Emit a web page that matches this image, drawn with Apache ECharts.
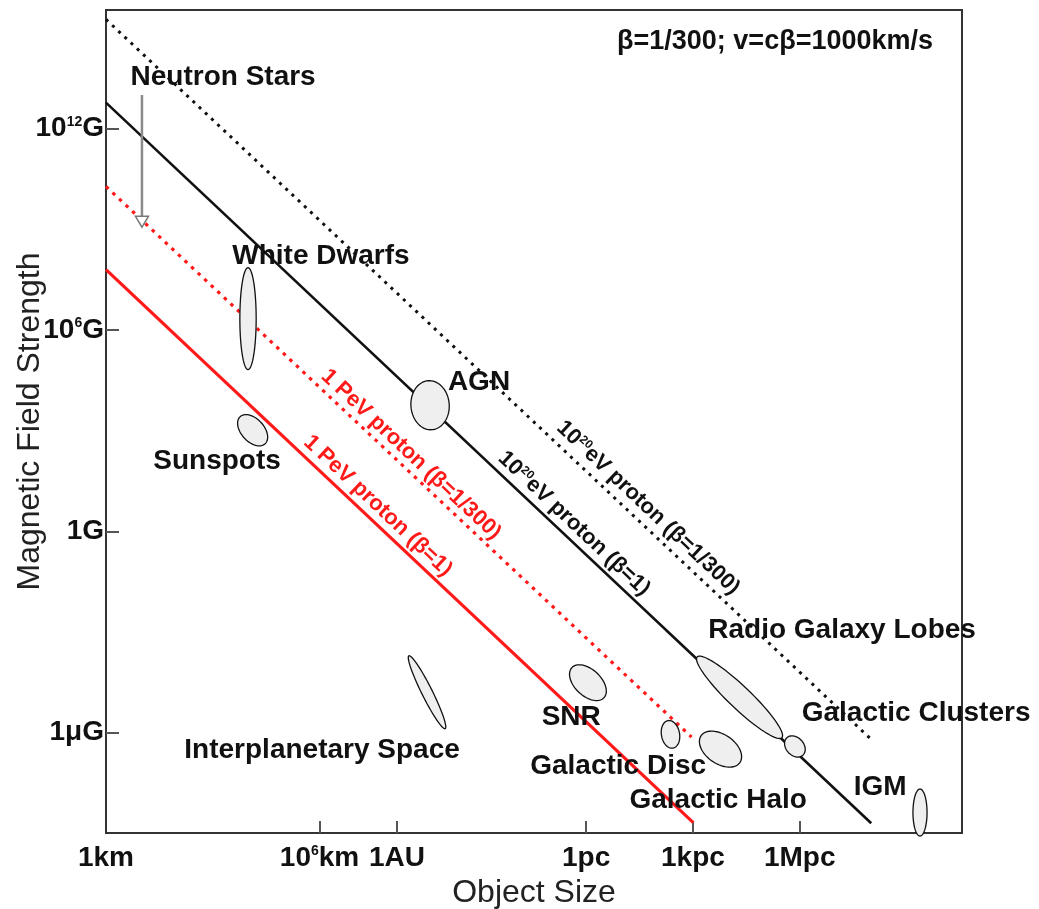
<!DOCTYPE html>
<html>
<head>
<meta charset="utf-8">
<script src="https://cdn.jsdelivr.net/npm/echarts@6/dist/echarts.min.js"></script>
<style>
  html, body { margin: 0; padding: 0; background: #fff; }
  #chart { width: 1039px; height: 909px; }
</style>
</head>
<body>
<div id="chart"></div>
<script>
// Object size axis: log10(size / km)
const xTickValues = [0, 6, 8.175, 13.49, 16.49, 19.49];
const xTickLabels = ['1km', '10{sup|6}km', '1AU', '1pc', '1kpc', '1Mpc'];
// Field strength axis: log10(B / gauss)
const yTickValues = [12, 6, 0, -6];
const yTickLabels = ['10{sup|12}G', '10{sup|6}G', '1G', '1\u03bcG'];

// Hillas limits, end points [log size, log B]
const lineEeV20Beta1 = [[0, 12.78], [21.5, -8.7]];
const lineEeV20Beta300 = [[0, 15.26], [21.5, -6.2]];
const linePeVBeta1 = [[0, 7.8], [16.5, -8.68]];
const linePeVBeta300 = [[0, 10.28], [16.45, -6.13]];

// Source regions: major-axis end points [log size, log B] and minor/major ratio
const sourceNames = ['White Dwarfs', 'Sunspots', 'AGN', 'Interplanetary Space', 'SNR',
  'Galactic Disc', 'Galactic Halo', 'Radio Galaxy Lobes', 'Galactic Clusters', 'IGM'];
const sourceFrom = [[3.99, 7.86], [3.77, 3.42], [9.05, 4.49], [8.51, -3.71], [13.09, -4.06],
  [15.79, -5.64], [16.72, -6.09], [16.61, -3.74], [19.13, -6.15], [22.87, -7.68]];
const sourceTo = [[3.99, 4.82], [4.47, 2.61], [9.16, 3.03], [9.53, -5.88], [13.99, -4.96],
  [15.93, -6.46], [17.81, -6.89], [18.99, -6.15], [19.58, -6.67], [22.87, -9.08]];
const sourceAspect = [0.16, 0.62, 0.78, 0.13, 0.6, 0.65, 0.62, 0.19, 0.75, 0.3];

// Neutron star range (arrow from top to bottom)
const neutronArrow = [[1.01, 13.01], [1.01, 9.36]];
const neutronHead = [[1.01, 9.23]];

// Text annotations anchored in data space
const labelNames = ['Neutron Stars', 'White Dwarfs', 'AGN', 'Sunspots', 'Interplanetary Space',
  'SNR', 'Galactic Disc', 'Galactic Halo', 'Radio Galaxy Lobes', 'Galactic Clusters', 'IGM'];
const labelAt = [[3.29, 13.52], [6.04, 8.21], [10.48, 4.43], [3.12, 2.10], [6.07, -6.51],
  [13.07, -5.55], [14.39, -7.01], [17.2, -8.0], [20.68, -2.96], [22.76, -5.43], [21.75, -7.64]];

const lineLabelTexts = ['1 PeV proton (\u03b2=1/300)', '1 PeV proton (\u03b2=1)',
  '10{sup|20}eV proton (\u03b2=1)', '10{sup|20}eV proton (\u03b2=1/300)'];
const lineLabelAt = [[8.57, 2.29], [7.64, 0.76], [13.15, 0.23], [15.23, 0.70]];
const lineLabelColors = ['#ff1a1a', '#ff1a1a', '#111', '#111'];

const FONT = 'Liberation Sans, Arial, Helvetica, sans-serif';
const RED = '#ff1a1a';

const supStyle = { fontSize: 14, fontWeight: 'bold', fontFamily: FONT, color: '#111', verticalAlign: 'top' };

function pickLabel(values, labels, v) {
  const i = values.findIndex(t => Math.abs(t - v) < 1e-6);
  return i < 0 ? '' : labels[i];
}

const chart = echarts.init(document.getElementById('chart'), null, { renderer: 'canvas' });

function lineSeries(data, color, width, dash) {
  return {
    type: 'line', data: data, symbol: 'none', z: 2, silent: true,
    lineStyle: { color: color, width: width, type: dash || 'solid', cap: 'butt' }
  };
}

function buildOption(angle) {
  return {
    animation: false,
    backgroundColor: '#fff',
    title: {
      text: '\u03b2=1/300; v=c\u03b2=1000km/s',
      right: 101, top: 23,
      textStyle: { fontFamily: FONT, fontSize: 27, fontWeight: 'bold', color: '#111' }
    },
    grid: {
      left: 106, right: 77, top: 10, bottom: 76,
      outerBoundsMode: 'none', containLabel: false,
      show: true, borderColor: '#333', borderWidth: 2, backgroundColor: 'transparent'
    },
    xAxis: {
      type: 'value', min: 0, max: 24.05,
      name: 'Object Size', nameLocation: 'middle', nameGap: 37,
      nameTextStyle: { fontFamily: FONT, fontSize: 32, color: '#222' },
      axisLine: { show: true, onZero: false, lineStyle: { color: '#333', width: 2 } },
      axisTick: { show: true, inside: true, length: 12, customValues: xTickValues.slice(1),
        lineStyle: { color: '#555', width: 2 } },
      axisLabel: {
        customValues: xTickValues, showMinLabel: true, showMaxLabel: true,
        margin: 11, fontFamily: FONT, fontSize: 28, fontWeight: 'bold', color: '#111',
        formatter: v => pickLabel(xTickValues, xTickLabels, v),
        rich: { sup: supStyle }
      },
      splitLine: { show: false }
    },
    yAxis: {
      type: 'value', min: -8.99, max: 15.54,
      name: 'Magnetic Field Strength', nameLocation: 'middle', nameGap: 60, nameRotate: 90,
      nameMoveOverlap: false,
      nameTextStyle: { fontFamily: FONT, fontSize: 32, color: '#222' },
      axisLine: { show: true, onZero: false, lineStyle: { color: '#333', width: 2 } },
      axisTick: { show: true, inside: true, length: 13, customValues: yTickValues,
        lineStyle: { color: '#555', width: 2 } },
      axisLabel: {
        customValues: yTickValues, showMinLabel: true, showMaxLabel: true,
        margin: 2, fontFamily: FONT, fontSize: 28, fontWeight: 'bold', color: '#111',
        formatter: v => pickLabel(yTickValues, yTickLabels, v),
        rich: { sup: supStyle }
      },
      splitLine: { show: false }
    },
    series: [
      lineSeries(lineEeV20Beta300, '#111', 3, [3, 5.5]),
      lineSeries(lineEeV20Beta1, '#111', 2.6),
      lineSeries(linePeVBeta300, RED, 3.2, [3.5, 5.5]),
      lineSeries(linePeVBeta1, RED, 3.2),
      lineSeries(neutronArrow, '#8a8a8a', 2.5),
      {
        type: 'scatter', data: neutronHead, symbol: 'triangle', symbolRotate: 180,
        symbolSize: [13, 11], z: 3, silent: true,
        itemStyle: { color: '#fff', borderColor: '#777', borderWidth: 1.5, opacity: 1 }
      },
      {
        type: 'custom', z: 3, clip: false, silent: true,
        data: sourceNames.map((n, i) => [sourceFrom[i][0], sourceFrom[i][1], sourceTo[i][0], sourceTo[i][1], sourceAspect[i]]),
        encode: { x: [0, 2], y: [1, 3] },
        renderItem: function (params, api) {
          const p1 = api.coord([api.value(0), api.value(1)]);
          const p2 = api.coord([api.value(2), api.value(3)]);
          const k = api.value(4);
          const cx = (p1[0] + p2[0]) / 2, cy = (p1[1] + p2[1]) / 2;
          const dx = p2[0] - p1[0], dy = p2[1] - p1[1];
          const a = Math.hypot(dx, dy) / 2, b = a * k, t = Math.atan2(dy, dx);
          const pts = [];
          for (let i = 0; i < 72; i++) {
            const s = i / 72 * Math.PI * 2;
            const u = a * Math.cos(s), w = b * Math.sin(s);
            pts.push([cx + u * Math.cos(t) - w * Math.sin(t), cy + u * Math.sin(t) + w * Math.cos(t)]);
          }
          return {
            type: 'polygon', shape: { points: pts },
            style: { fill: '#efefef', stroke: '#111', lineWidth: 1.3 }
          };
        }
      },
      {
        type: 'scatter', z: 5, silent: true, symbolSize: 0,
        itemStyle: { opacity: 1 },
        data: labelNames.map((n, i) => ({ value: labelAt[i], name: n })),
        label: {
          show: true, position: 'inside', formatter: p => p.name, opacity: 1,
          fontFamily: FONT, fontSize: 28, fontWeight: 'bold', color: '#111'
        }
      },
      {
        type: 'scatter', z: 5, silent: true, symbolSize: 0,
        itemStyle: { opacity: 1 },
        data: lineLabelTexts.map((txt, i) => ({
          value: lineLabelAt[i], name: txt,
          label: {
            color: lineLabelColors[i],
            rich: { sup: Object.assign({}, supStyle, { color: lineLabelColors[i], fontSize: 12 }) }
          }
        })),
        label: {
          show: true, position: 'inside', rotate: angle, formatter: p => p.name, opacity: 1,
          fontFamily: FONT, fontSize: 22, fontWeight: 'bold'
        }
      }
    ]
  };
}

chart.setOption(buildOption(-43));
// Rotate the line labels to follow a slope of one decade per decade on screen
const q0 = chart.convertToPixel({ gridIndex: 0 }, [0, 0]);
const q1 = chart.convertToPixel({ gridIndex: 0 }, [10, -10]);
const ang = -Math.atan2(q1[1] - q0[1], q1[0] - q0[0]) * 180 / Math.PI;
chart.setOption(buildOption(ang));
</script>
</body>
</html>
